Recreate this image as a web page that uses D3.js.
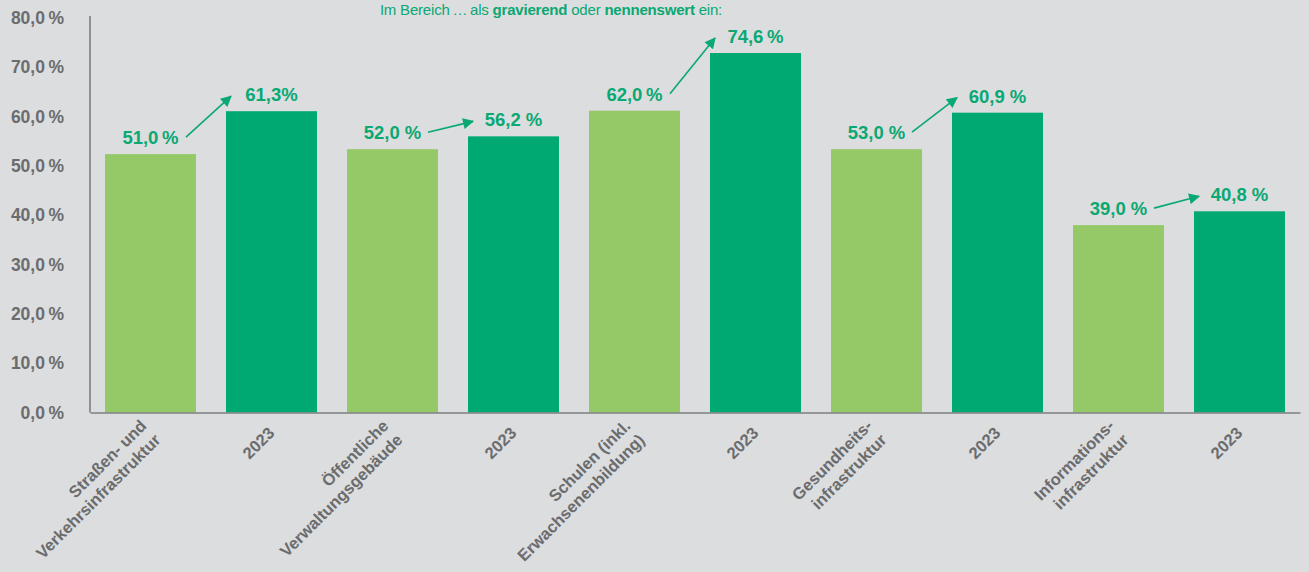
<!DOCTYPE html>
<html lang="de">
<head>
    <meta charset="UTF-8">
    <title>Chart</title>
    <style>
        html, body { margin: 0; padding: 0; background: #dcdddf; }
        svg { display: block; }
    </style>
</head>
<body>
    <svg id="svg" width="1309" height="572"></svg>

    <script src="https://d3js.org/d3.v7.min.js"></script>
    <script>
        // data
        const categories = [
            ['Straßen- und', 'Verkehrsinfrastruktur'],
            ['2023'],
            ['Öffentliche', 'Verwaltungsgebäude'],
            ['2023'],
            ['Schulen (inkl.', 'Erwachsenenbildung)'],
            ['2023'],
            ['Gesundheits-', 'infrastruktur'],
            ['2023'],
            ['Informations-', 'infrastruktur'],
            ['2023']
        ]
        // bar heights as drawn in the picture
        const barValues = [52.4, 61.1, 53.4, 56.0, 61.2, 72.9, 53.4, 60.8, 38.0, 40.8]
        // value labels as printed
        const valueLabels = ['51,0\u2009%', '61,3%', '52,0 %', '56,2 %', '62,0\u2009%', '74,6\u2009%', '53,0 %', '60,9 %', '39,0 %', '40,8 %']
        const yTicks = [0, 10, 20, 30, 40, 50, 60, 70, 80]
        // pairs: earlier survey -> 2023
        const pairs = [[0, 1], [2, 3], [4, 5], [6, 7], [8, 9]]

        const lightGreen = '#95c968'
        const darkGreen = '#00a972'
        const textGreen = '#0aa872'
        const grey = '#6b6c6e'

        const svg = d3.select('#svg')

        const x = d3.scaleBand()
            .domain(d3.range(categories.length))
            .range([90, 1300])
            .paddingInner(0.248)
            .paddingOuter(0.124)
        const y = d3.scaleLinear()
            .domain([0, 80])
            .range([412.5, 18])

        // title (sits right at the top edge)
        const title = svg.append('text')
            .attr('x', 551)
            .attr('y', 15)
            .attr('text-anchor', 'middle')
            .style('font-family', 'Liberation Sans, Arial, sans-serif')
            .style('font-size', '15px')
            .style('letter-spacing', '-0.2px')
            .attr('fill', textGreen)
        title.append('tspan').text('Im Bereich\u2009…\u2009als ')
        title.append('tspan').text('gravierend').style('font-weight', 'bold')
        title.append('tspan').text(' oder ')
        title.append('tspan').text('nennenswert').style('font-weight', 'bold')
        title.append('tspan').text(' ein:')

        // bars
        svg.append('g')
            .selectAll('rect')
            .data(barValues)
            .enter()
            .append('rect')
            .attr('x', (d, i) => x(i))
            .attr('y', d => y(d))
            .attr('width', x.bandwidth())
            .attr('height', d => y(0) - y(d))
            .attr('fill', (d, i) => i % 2 === 0 ? lightGreen : darkGreen)

        // y axis
        const yAxis = svg.append('g')
            .attr('transform', 'translate(90,0)')
            .call(d3.axisLeft(y)
                .tickValues(yTicks)
                .tickSize(0)
                .tickSizeOuter(0)
                .tickPadding(26)
                .tickFormat(d => d3.format('.1f')(d).replace('.', ',') + '\u2009%'))
        yAxis.select('.domain')
            .attr('stroke', '#7d7e80')
            .attr('stroke-width', 1.6)
            .attr('d', `M0,${y(0)}V16`)
        yAxis.selectAll('text')
            .attr('fill', grey)
            .style('font-family', 'Liberation Sans, Arial, sans-serif')
            .style('font-size', '17.5px')
            .style('font-weight', 'bold')

        // x axis line
        const xAxis = svg.append('g')
            .attr('transform', `translate(0,${y(0)})`)
            .call(d3.axisBottom(x).tickSize(0).tickSizeOuter(0).tickFormat(''))
        xAxis.select('.domain')
            .attr('stroke', '#7d7e80')
            .attr('stroke-width', 1.6)

        // rotated category labels
        const lineHeight = 20
        const catGroups = svg.append('g')
            .selectAll('text')
            .data(categories)
            .enter()
            .append('text')
            .attr('transform', (d, i) => `translate(${x(i) + x.bandwidth() / 2 + 4},434) rotate(-45)`)
            .attr('text-anchor', 'end')
            .attr('fill', grey)
            .style('font-family', 'Liberation Sans, Arial, sans-serif')
            .style('font-size', '16.5px')
            .style('font-weight', 'bold')
        catGroups.selectAll('tspan')
            .data(d => d.map((t, j) => ({ t, dy: (j - (d.length - 1) / 2) * lineHeight })))
            .enter()
            .append('tspan')
            .attr('x', 0)
            .attr('y', d => d.dy)
            .text(d => d.t)

        // value labels
        svg.append('g')
            .selectAll('text')
            .data(barValues)
            .enter()
            .append('text')
            .attr('x', (d, i) => x(i) + x.bandwidth() / 2)
            .attr('y', d => y(d) - 10)
            .attr('text-anchor', 'middle')
            .attr('fill', textGreen)
            .style('font-family', 'Liberation Sans, Arial, sans-serif')
            .style('font-size', '18.5px')
            .style('font-weight', 'bold')
            .text((d, i) => valueLabels[i])

        // arrows
        svg.append('defs')
            .append('marker')
            .attr('id', 'arrow')
            .attr('viewBox', '0 0 10 10')
            .attr('refX', 9)
            .attr('refY', 5)
            .attr('markerWidth', 14)
            .attr('markerHeight', 11)
            .attr('markerUnits', 'userSpaceOnUse')
            .attr('orient', 'auto')
            .append('path')
            .attr('d', 'M0,0L10,5L0,10Z')
            .attr('fill', textGreen)

        svg.append('g')
            .selectAll('path')
            .data(pairs)
            .enter()
            .append('path')
            .attr('d', ([a, b]) => d3.line()([
                [x(a) + x.bandwidth() - 10, y(barValues[a]) - 17],
                [x(b) + 5, y(barValues[b]) - 15]
            ]))
            .attr('stroke', textGreen)
            .attr('stroke-width', 1.6)
            .attr('fill', 'none')
            .attr('marker-end', 'url(#arrow)')
    </script>
</body>
</html>
